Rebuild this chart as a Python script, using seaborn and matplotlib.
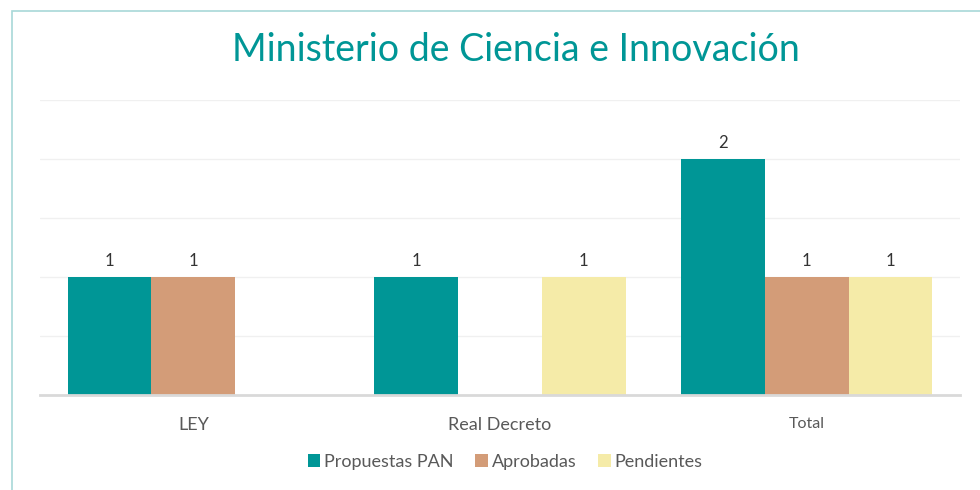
import pandas as pd
import matplotlib.pyplot as plt
import seaborn as sns
from matplotlib.patches import Rectangle

categorias = ['LEY', 'Real Decreto', 'Total']
series = ['Propuestas PAN', 'Aprobadas', 'Pendientes']
propuestas = [1, 1, 2]
aprobadas = [1, 0, 1]
pendientes = [0, 1, 1]
colores = ['#009696', '#D39C78', '#F5EBA8']

df = pd.DataFrame({
    'categoria': categorias * 3,
    'serie': [s for s in series for _ in categorias],
    'valor': propuestas + aprobadas + pendientes,
})

sns.set_style('white')
plt.rcParams['font.family'] = ['Lato', 'DejaVu Sans']

fig = plt.figure(figsize=(9.8, 4.9), dpi=100)
ax = fig.add_axes([40 / 980, 1 - 395 / 490, 920 / 980, 295 / 490])

sns.barplot(data=df, x='categoria', y='valor', hue='serie', palette=colores,
            width=0.82, saturation=1, ax=ax, linewidth=0)

for cont in ax.containers:
    labels = ['%d' % b.get_height() if b.get_height() > 0 else '' for b in cont]
    ax.bar_label(cont, labels=labels, padding=6, fontsize=12, color='#333333')

ax.set_ylim(0, 2.5)
ax.set_xlim(-0.5, 2.5)
ax.set_yticks([0.5, 1, 1.5, 2, 2.5])
ax.yaxis.grid(True, color='#F0F0F0', lw=1)
ax.set_axisbelow(True)
ax.tick_params(axis='y', left=False, labelleft=False)
ax.tick_params(axis='x', bottom=False, pad=12, labelsize=13, labelcolor='#595959')
ax.get_xticklabels()[2].set_fontsize(11.5)
ax.set_xlabel('')
ax.set_ylabel('')
for s in ['top', 'right', 'left']:
    ax.spines[s].set_visible(False)
ax.spines['bottom'].set_color('#D9D9D9')
ax.spines['bottom'].set_linewidth(2)

fig.text(516 / 980, 1 - 50 / 490, 'Ministerio de Ciencia e Innovación', ha='center', va='center',
         fontsize=27, color='#009696')

ax.legend(loc='center', bbox_to_anchor=(505 / 980, 28 / 490), bbox_transform=fig.transFigure,
          ncol=3, frameon=False, fontsize=13, handlelength=0.7, handleheight=0.7,
          handletextpad=0.2, columnspacing=1.2, labelcolor='#595959')

fig.patches.append(Rectangle((12 / 980, -0.1), 1.1, 1.1 - 11 / 490, transform=fig.transFigure,
                             fill=False, edgecolor='#A8D8D8', lw=1.2))

fig.savefig('out.png', dpi=100)
